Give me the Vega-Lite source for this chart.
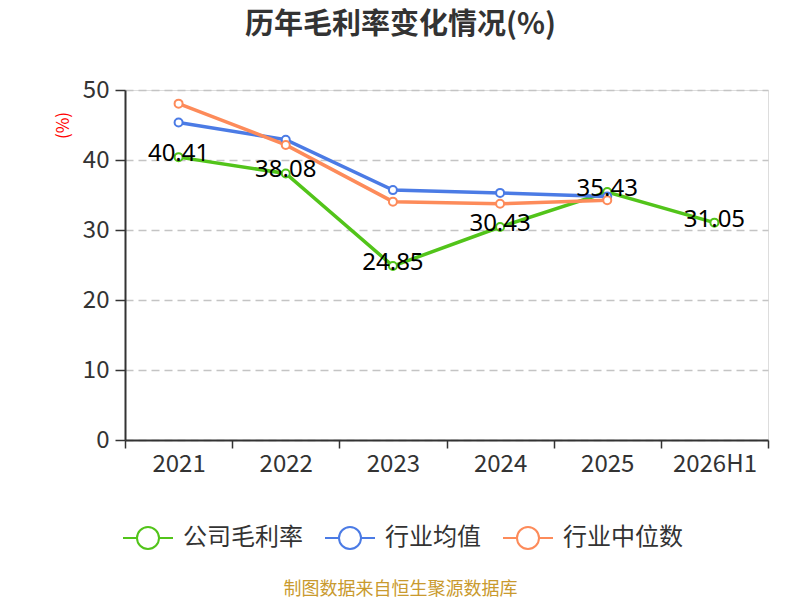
{
  "$schema": "https://vega.github.io/schema/vega-lite/v6.json",
  "autosize": "none",
  "padding": {"left": 125, "top": 90, "right": 32, "bottom": 160},
  "width": 643,
  "height": 350,
  "background": "white",
  "title": {
    "text": "历年毛利率变化情况(%)",
    "anchor": "middle",
    "dx": -46,
    "offset": 38,
    "font": "Noto Sans CJK SC",
    "fontSize": 29,
    "fontWeight": "bold",
    "color": "#333333"
  },
  "data": {
    "values": [
      {"year": "2021", "series": "公司毛利率", "value": 40.41},
      {"year": "2022", "series": "公司毛利率", "value": 38.08},
      {"year": "2023", "series": "公司毛利率", "value": 24.85},
      {"year": "2024", "series": "公司毛利率", "value": 30.43},
      {"year": "2025", "series": "公司毛利率", "value": 35.43},
      {"year": "2026H1", "series": "公司毛利率", "value": 31.05},
      {"year": "2021", "series": "行业均值", "value": 45.35},
      {"year": "2022", "series": "行业均值", "value": 42.9},
      {"year": "2023", "series": "行业均值", "value": 35.7},
      {"year": "2024", "series": "行业均值", "value": 35.3},
      {"year": "2025", "series": "行业均值", "value": 34.8},
      {"year": "2021", "series": "行业中位数", "value": 48.05},
      {"year": "2022", "series": "行业中位数", "value": 42.15},
      {"year": "2023", "series": "行业中位数", "value": 34.05},
      {"year": "2024", "series": "行业中位数", "value": 33.75},
      {"year": "2025", "series": "行业中位数", "value": 34.25}
    ]
  },
  "encoding": {
    "x": {
      "field": "year",
      "type": "ordinal",
      "bandPosition": 0.5,
      "scale": {"type": "band", "paddingInner": 0, "paddingOuter": 0},
      "axis": {
        "title": "制图数据来自恒生聚源数据库",
        "titleFont": "Noto Sans CJK SC",
        "titleFontSize": 18,
        "titleFontWeight": "normal",
        "titleColor": "#c99a2e",
        "titleX": 275,
        "titleY": 149,
        "titleBaseline": "middle",
        "titleAnchor": "middle",
        "labelAngle": 0,
        "labelFont": "Noto Sans CJK SC",
        "labelFontSize": 24,
        "labelColor": "#333333",
        "labelPadding": 4,
        "tickBand": "extent",
        "tickSize": 8,
        "tickColor": "#333333",
        "tickWidth": 1.5,
        "domainColor": "#333333",
        "domainWidth": 2,
        "grid": false
      }
    },
    "y": {
      "field": "value",
      "type": "quantitative",
      "scale": {"domain": [0, 50], "nice": false},
      "axis": {
        "title": "(%)",
        "titleColor": "red",
        "titleFont": "Noto Sans CJK SC",
        "titleFontSize": 17,
        "titleFontWeight": "normal",
        "titleX": -62,
        "titleY": 35,
        "titleAlign": "center",
        "titleBaseline": "middle",
        "values": [0, 10, 20, 30, 40, 50],
        "labelFont": "Noto Sans CJK SC",
        "labelFontSize": 24,
        "labelColor": "#333333",
        "labelPadding": 6,
        "tickSize": 10,
        "tickColor": "#333333",
        "tickWidth": 1.5,
        "domainColor": "#333333",
        "domainWidth": 2,
        "gridColor": "#c4c4c4",
        "gridDash": [8, 5],
        "gridWidth": 1.5
      }
    },
    "color": {
      "field": "series",
      "type": "nominal",
      "sort": ["公司毛利率", "行业均值", "行业中位数"],
      "scale": {
        "domain": ["公司毛利率", "行业均值", "行业中位数"],
        "range": ["#52c41a", "#4b7be5", "#fd8b5a"]
      },
      "legend": {
        "title": null,
        "orient": "none",
        "direction": "horizontal",
        "legendX": -3,
        "legendY": 422,
        "symbolType": "M-1,0L-0.44,0M0.44,0L1,0M0.44,0A0.44,0.44,0,1,1,-0.44,0A0.44,0.44,0,1,1,0.44,0Z",
        "symbolSize": 2500,
        "symbolStrokeWidth": 2,
        "symbolFillColor": "white",
        "labelFont": "Noto Sans CJK SC",
        "labelFontSize": 24,
        "labelColor": "#333333",
        "labelOffset": 9,
        "columnPadding": 18,
        "labelLimit": 300
      }
    }
  },
  "layer": [
    {
      "mark": {"type": "line", "strokeWidth": 3.5}
    },
    {
      "mark": {"type": "point", "filled": false, "fill": "white", "fillOpacity": 1, "opacity": 1, "size": 64, "strokeWidth": 2}
    },
    {
      "transform": [{"filter": "datum.series == '公司毛利率'"}],
      "mark": {"type": "text", "font": "Noto Sans", "fontSize": 24, "color": "black", "baseline": "middle", "dy": -3},
      "encoding": {
        "text": {"field": "value", "type": "quantitative", "format": ".2f"},
        "color": {"value": "black"}
      }
    }
  ]
}
